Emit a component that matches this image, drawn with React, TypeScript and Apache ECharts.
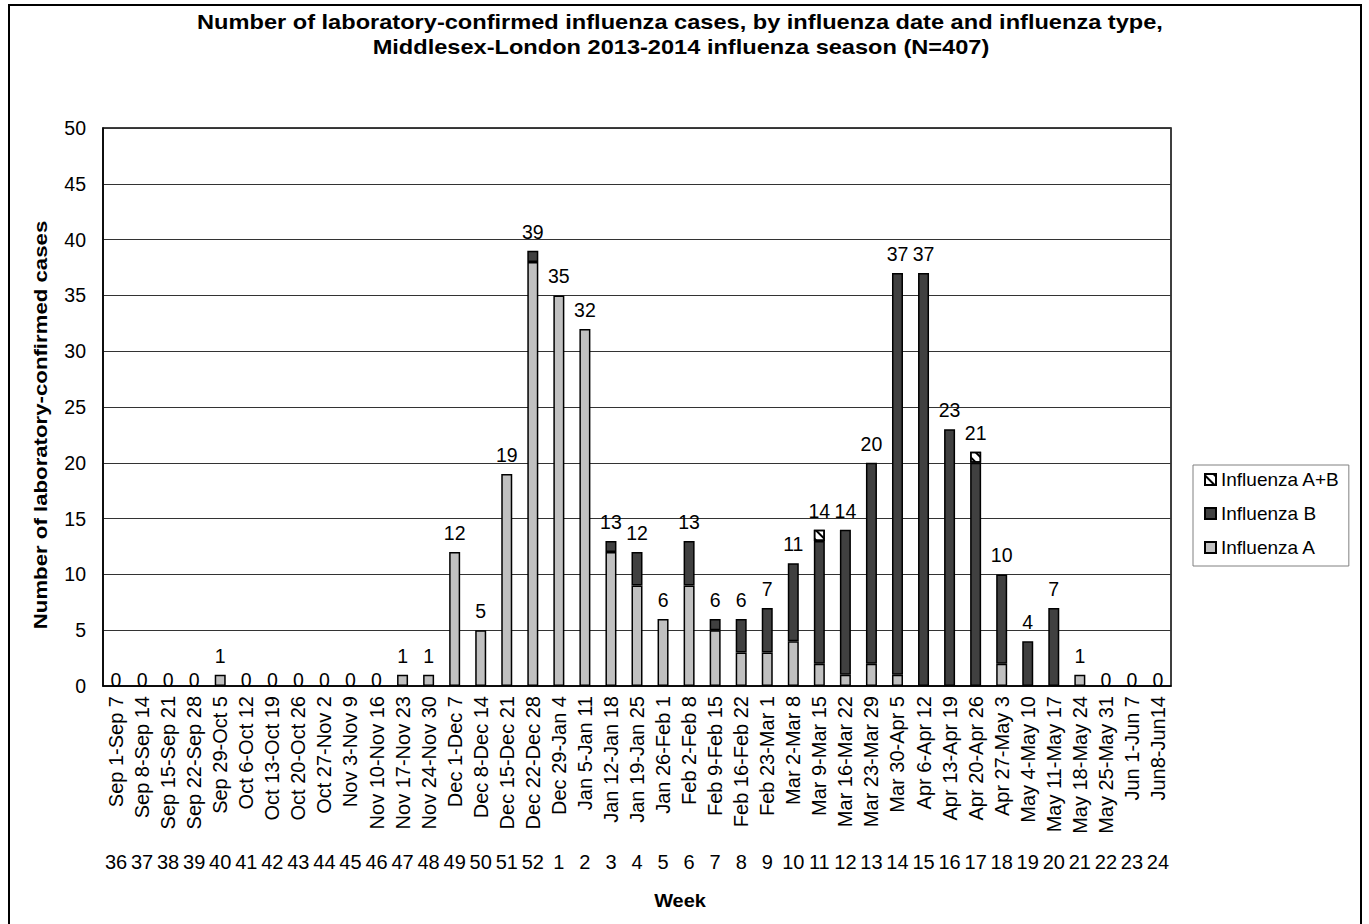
import React, { useEffect, useRef } from "react";
import * as echarts from "echarts";

const dateLabels = [
  "Sep 1-Sep 7", "Sep 8-Sep 14", "Sep 15-Sep 21", "Sep 22-Sep 28", "Sep 29-Oct 5",
  "Oct 6-Oct 12", "Oct 13-Oct 19", "Oct 20-Oct 26", "Oct 27-Nov 2", "Nov 3-Nov 9",
  "Nov 10-Nov 16", "Nov 17-Nov 23", "Nov 24-Nov 30", "Dec 1-Dec 7", "Dec 8-Dec 14",
  "Dec 15-Dec 21", "Dec 22-Dec 28", "Dec 29-Jan 4", "Jan 5-Jan 11", "Jan 12-Jan 18",
  "Jan 19-Jan 25", "Jan 26-Feb 1", "Feb 2-Feb 8", "Feb 9-Feb 15", "Feb 16-Feb 22",
  "Feb 23-Mar 1", "Mar 2-Mar 8", "Mar 9-Mar 15", "Mar 16-Mar 22", "Mar 23-Mar 29",
  "Mar 30-Apr 5", "Apr 6-Apr 12", "Apr 13-Apr 19", "Apr 20-Apr 26", "Apr 27-May 3",
  "May 4-May 10", "May 11-May 17", "May 18-May 24", "May 25-May 31", "Jun 1-Jun 7",
  "Jun8-Jun14",
];

const weekNumbers = [
  "36", "37", "38", "39", "40", "41", "42", "43", "44", "45", "46", "47", "48", "49", "50", "51", "52",
  "1", "2", "3", "4", "5", "6", "7", "8", "9", "10", "11", "12", "13", "14", "15", "16", "17", "18",
  "19", "20", "21", "22", "23", "24",
];

const influenzaA = [
  0, 0, 0, 0, 1, 0, 0, 0, 0, 0, 0, 1, 1, 12, 5, 19, 38,
  35, 32, 12, 9, 6, 9, 5, 3, 3, 4, 2, 1, 2, 1, 0, 0, 0, 2, 0, 0, 1, 0, 0, 0,
];

const influenzaB = [
  0, 0, 0, 0, 0, 0, 0, 0, 0, 0, 0, 0, 0, 0, 0, 0, 1,
  0, 0, 1, 3, 0, 4, 1, 3, 4, 7, 11, 13, 18, 36, 37, 23, 20, 8, 4, 7, 0, 0, 0, 0,
];

const influenzaAB = [
  0, 0, 0, 0, 0, 0, 0, 0, 0, 0, 0, 0, 0, 0, 0, 0, 0,
  0, 0, 0, 0, 0, 0, 0, 0, 0, 0, 1, 0, 0, 0, 0, 0, 1, 0, 0, 0, 0, 0, 0, 0,
];

const totals = influenzaA.map((a, i) => a + influenzaB[i] + influenzaAB[i]);

const FONT = "'Liberation Sans', Arial, sans-serif";

export default function App() {
  const ref = useRef<HTMLDivElement>(null);

  useEffect(() => {
    if (!ref.current) return;
    const chart = echarts.init(ref.current, undefined, { renderer: "svg" });
    const nz = (arr: number[]) => arr.map((v) => (v === 0 ? null : v));
    const barBase = {
      type: "bar",
      stack: "flu",
      barWidth: 11,
      xAxisIndex: 0,
      yAxisIndex: 0,
    };
    chart.setOption({
      animation: false,
      backgroundColor: "#fff",
      textStyle: { fontFamily: FONT },
      grid: {
        left: 103,
        top: 128,
        right: 198,
        bottom: 238,
        show: true,
        borderColor: "#000",
        borderWidth: 1.5,
      },
      legend: {
        orient: "vertical",
        left: 1193,
        top: 465,
        data: ["Influenza A+B", "Influenza B", "Influenza A"],
        icon: "rect",
        itemWidth: 11,
        itemHeight: 11,
        itemGap: 15,
        padding: [5, 9, 9, 11],
        borderColor: "#808080",
        borderWidth: 1,
        textStyle: { fontSize: 19, color: "#000", fontFamily: FONT },
      },
      xAxis: [
        {
          type: "category",
          data: dateLabels,
          position: "bottom",
          axisLine: { lineStyle: { color: "#000", width: 1.5 } },
          axisTick: { length: 187, interval: 0, lineStyle: { color: "#444", width: 1 } },
          axisLabel: {
            rotate: 90,
            interval: 0,
            fontSize: 20,
            color: "#000",
            margin: 10,
            fontFamily: FONT,
          },
        },
        {
          type: "category",
          data: weekNumbers,
          position: "bottom",
          offset: 160,
          axisLine: { show: false },
          axisTick: { show: false },
          axisLabel: { interval: 0, fontSize: 20, color: "#000", margin: 6, fontFamily: FONT },
        },
      ],
      yAxis: {
        type: "value",
        min: 0,
        max: 50,
        interval: 5,
        axisLine: { show: true, lineStyle: { color: "#000", width: 1.5 } },
        axisTick: { show: false },
        splitLine: { lineStyle: { color: "#333", width: 1 } },
        axisLabel: { fontSize: 19.5, color: "#000", margin: 17, fontFamily: FONT },
      },
      series: [
        {
          ...barBase,
          name: "Influenza A",
          data: nz(influenzaA),
          itemStyle: { color: "#c0c0c0", borderColor: "#000", borderWidth: 1.5 },
        },
        {
          ...barBase,
          name: "Influenza B",
          data: nz(influenzaB),
          itemStyle: { color: "#404040", borderColor: "#000", borderWidth: 1.5 },
        },
        {
          ...barBase,
          name: "Influenza A+B",
          data: nz(influenzaAB),
          itemStyle: {
            color: "#ffffff",
            borderColor: "#000",
            borderWidth: 1.5,
            decal: {
              symbol: "rect",
              symbolSize: 1,
              color: "#000",
              backgroundColor: "#fff",
              dashArrayX: [1, 0],
              dashArrayY: [2, 5],
              rotation: Math.PI / 4,
            },
          },
        },
        {
          ...barBase,
          name: "Total",
          data: totals.map((t) =>
            t === 0 ? { value: 0, label: { distance: -4 } } : { value: 0 }
          ),
          itemStyle: { color: "transparent", borderWidth: 0 },
          label: {
            show: true,
            position: "top",
            distance: 9,
            fontSize: 19.5,
            color: "#000",
            fontFamily: FONT,
            formatter: (p: any) => String(totals[p.dataIndex]),
          },
        },
      ],
      graphic: [
        {
          type: "rect",
          shape: { x: 9, y: 5, width: 1352, height: 1000 },
          style: { fill: "none", stroke: "#000", lineWidth: 2 },
          silent: true,
        },
        {
          type: "text",
          x: 680,
          y: 22,
          scaleX: 1.18,
          style: {
            text: "Number of laboratory-confirmed influenza cases, by influenza date and influenza type,",
            font: `bold 20px ${FONT}`,
            fill: "#000",
            align: "center",
            verticalAlign: "middle",
          },
        },
        {
          type: "text",
          x: 681,
          y: 47,
          scaleX: 1.18,
          style: {
            text: "Middlesex-London 2013-2014 influenza season (N=407)",
            font: `bold 20px ${FONT}`,
            fill: "#000",
            align: "center",
            verticalAlign: "middle",
          },
        },
        {
          type: "text",
          x: 40,
          y: 425,
          rotation: Math.PI / 2,
          scaleX: 1.17,
          style: {
            text: "Number of laboratory-confirmed cases",
            font: `bold 19px ${FONT}`,
            fill: "#000",
            align: "center",
            verticalAlign: "middle",
          },
        },
        {
          type: "text",
          x: 680,
          y: 900,
          scaleX: 1.05,
          style: {
            text: "Week",
            font: `bold 19px ${FONT}`,
            fill: "#000",
            align: "center",
            verticalAlign: "middle",
          },
        },
      ],
    });
    return () => chart.dispose();
  }, []);

  return (
    <div
      ref={ref}
      style={{ position: "absolute", left: 0, top: 0, width: 1369, height: 924 }}
    />
  );
}
